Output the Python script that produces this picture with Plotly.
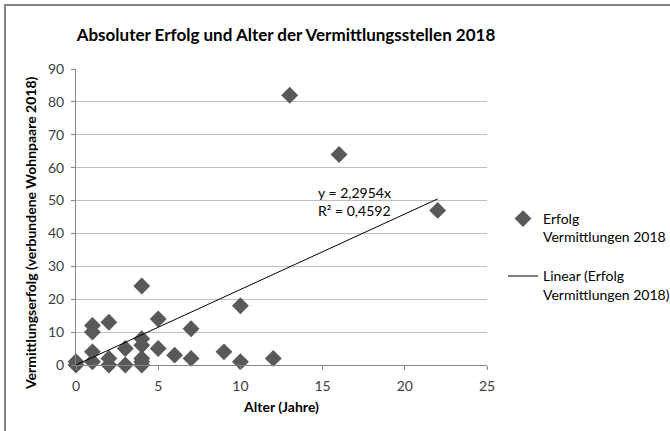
import plotly.graph_objects as go

# Alter der Vermittlungsstellen (Jahre) und Erfolg 2018
alter = [0, 0, 1, 1, 1, 1, 2, 2, 2, 3, 3, 4, 4, 4, 4, 4, 4,
         5, 5, 6, 7, 7, 9, 10, 10, 12, 13, 16, 22]
erfolg = [0, 1, 12, 10, 4, 1, 13, 2, 0, 5, 0, 24, 8, 6, 2, 1, 0,
          14, 5, 3, 11, 2, 4, 18, 1, 2, 82, 64, 47]

# lineare Trendlinie durch den Ursprung
steigung = 2.2954
r_quadrat = 0.4592
trend_x = [0, max(alter)]
trend_y = [steigung * x for x in trend_x]

FONT = "Lato"
W, H = 670, 431
L, R, T, B = 76, 183, 69, 66
PW, PH = W - L - R, H - T - B

fig = go.Figure()

fig.add_trace(go.Scatter(x=alter, y=erfolg, mode="markers", cliponaxis=False,
                         name="Erfolg<br>Vermittlungen 2018", legendgroup="a",
                         marker=dict(symbol="diamond", size=13, color="#595959",
                                     line=dict(width=0))))

fig.add_trace(go.Scatter(x=trend_x, y=trend_y, mode="lines",
                         name="Linear (Erfolg<br>Vermittlungen 2018)", legendgroup="b",
                         line=dict(color="black", width=1)))

fig.update_layout(width=W, height=H,
                  margin=dict(l=L, r=R, t=T, b=B),
                  plot_bgcolor="white", paper_bgcolor="white",
                  font=dict(family=FONT, color="black", size=14),
                  title=dict(text="<b>Absoluter Erfolg und Alter der Vermittlungsstellen 2018</b>",
                             font=dict(size=17), x=286 / W, xanchor="center",
                             y=1 - 35 / H, yanchor="middle"),
                  legend=dict(xref="container", yref="container",
                              x=503 / W, xanchor="left", y=1 - 203 / H, yanchor="top",
                              font=dict(size=14), tracegroupgap=18, valign="top",
                              itemwidth=30))

fig.update_xaxes(range=[0, 25], dtick=5, showgrid=False, zeroline=False,
                 showline=True, linecolor="#868686", ticks="outside",
                 ticklen=4, tickcolor="#868686", automargin=False,
                 ticklabelstandoff=4,
                 tickfont=dict(size=14, color="#404040"),
                 title=dict(text="<b>Alter (Jahre)</b>", font=dict(size=14), standoff=9))

fig.update_yaxes(range=[0, 90], dtick=10, showgrid=True, gridcolor="#bfbfbf",
                 zeroline=False, showline=True, linecolor="#868686",
                 ticks="outside", ticklen=4, tickcolor="#868686", automargin=False,
                 ticklabelstandoff=4,
                 tickfont=dict(size=14, color="#404040"))

# Achsentitel der y-Achse (wie im Original leicht unter der Mitte)
fig.add_annotation(xref="paper", yref="paper", x=(30 - L) / PW, y=(H - B - 233) / PH,
                   text="<b>Vermittlungserfolg (verbundene Wohnpaare 2018)</b>",
                   textangle=-90, showarrow=False, font=dict(size=14),
                   xanchor="center", yanchor="middle")

gleichung = "y = {}x<br>R² = {}".format(f"{steigung:.4f}".replace(".", ","),
                                          f"{r_quadrat:.4f}".replace(".", ","))
fig.add_annotation(x=14.6, y=49.7, xref="x", yref="y", xanchor="left",
                   yanchor="middle", align="left", showarrow=False,
                   text=gleichung, font=dict(size=14))

# Rahmen um das gesamte Diagramm (rechts/unten ausserhalb des Bildes)
fig.add_shape(type="rect", xref="paper", yref="paper",
              x0=(5 - L) / PW, x1=(690 - L) / PW,
              y0=(H - B - 450) / PH, y1=(H - B - 5) / PH,
              line=dict(color="#808080", width=2), layer="below")

fig.write_html("out.html", config={"displayModeBar": False},
               post_script="document.body.style.margin='0';")
